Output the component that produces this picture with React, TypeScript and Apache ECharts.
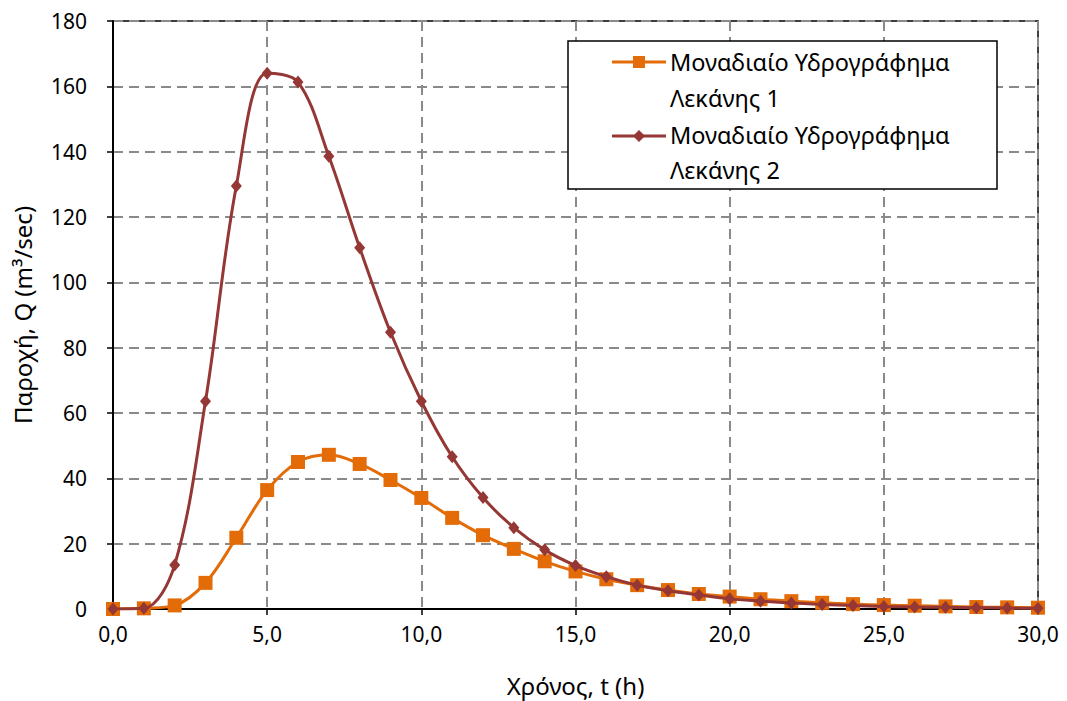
import React, { useEffect, useRef } from "react";
import * as echarts from "echarts";

const times: number[] = [0, 1, 2, 3, 4, 5, 6, 7, 8, 9, 10, 11, 12, 13, 14, 15, 16, 17, 18, 19, 20, 21, 22, 23, 24, 25, 26, 27, 28, 29, 30];
const basin1: number[] = [0, 0.2, 1.1, 8, 21.8, 36.4, 45, 47.2, 44.4, 39.5, 34, 27.9, 22.6, 18.4, 14.6, 11.5, 9.1, 7.3, 5.8, 4.6, 3.8, 3.0, 2.4, 1.9, 1.5, 1.2, 1.0, 0.8, 0.6, 0.5, 0.4];
const basin2: number[] = [0, 0.2, 13.5, 63.6, 129.5, 164, 161.3, 138.6, 110.6, 84.7, 63.6, 46.6, 34.1, 24.9, 18.1, 13.3, 9.9, 7.3, 5.6, 4.3, 3.1, 2.4, 1.8, 1.4, 1.1, 0.8, 0.6, 0.5, 0.4, 0.3, 0.2];
const seriesNames: string[] = ["Μοναδιαίο Υδρογράφημα Λεκάνης 1", "Μοναδιαίο Υδρογράφημα Λεκάνης 2"];
const legendLine1 = "Μοναδιαίο Υδρογράφημα";
const legendLine2: string[] = ["Λεκάνης 1", "Λεκάνης 2"];
const xTitle = "Χρόνος, t (h)";
const yTitle = "Παροχή, Q (m³/sec)";

const ORANGE = "#E36C09";
const DARKRED = "#953735";
const FONT = "Noto Sans";

export default function App() {
  const ref = useRef<HTMLDivElement>(null);
  useEffect(() => {
    document.body.style.margin = "0";
    if (!ref.current) return;
    const chart = echarts.init(ref.current, null, { renderer: "svg" });
    const gridLine = { show: true, lineStyle: { color: "#8a8a8a", type: [10, 6], width: 2 } };
    const lx = 568, ly = 41;
    const LF = 23.5;
    chart.setOption({
      animation: false,
      backgroundColor: "#ffffff",
      textStyle: { fontFamily: FONT },
      grid: { left: 113, right: 29, top: 21, bottom: 92, show: true, borderColor: "#000", borderWidth: 1.5, backgroundColor: "transparent", containLabel: false, outerBoundsMode: "none" },
      xAxis: {
        type: "value", min: 0, max: 30, interval: 5,
        name: xTitle, nameLocation: "middle", nameGap: 64,
        nameTextStyle: { fontSize: 24, color: "#000", fontFamily: FONT },
        axisLine: { show: true, lineStyle: { color: "#000", width: 2 } },
        axisTick: { show: true, inside: false, length: 6, lineStyle: { color: "#000", width: 1.5 } },
        axisLabel: { fontSize: 21, color: "#000", margin: 14, fontFamily: FONT, formatter: (v: number) => v.toFixed(1).replace(".", ",") },
        splitLine: gridLine,
      },
      yAxis: {
        type: "value", min: 0, max: 180, interval: 20,
        name: yTitle, nameLocation: "middle", nameGap: 79, nameRotate: 90,
        nameTextStyle: { fontSize: 24, color: "#000", fontFamily: FONT },
        axisLine: { show: true, lineStyle: { color: "#000", width: 2 } },
        axisTick: { show: true, inside: false, length: 6, lineStyle: { color: "#000", width: 1.5 } },
        axisLabel: { fontSize: 21, color: "#000", margin: 26, fontFamily: FONT },
        splitLine: gridLine,
      },
      series: [
        {
          name: seriesNames[0], type: "line", smooth: 0.35,
          data: times.map((t, i) => [t, basin1[i]]),
          symbol: "rect", symbolSize: 14,
          lineStyle: { color: ORANGE, width: 3 },
          itemStyle: { color: ORANGE },
          z: 2,
        },
        {
          name: seriesNames[1], type: "line", smooth: 0.35,
          data: times.map((t, i) => [t, basin2[i]]),
          symbol: "diamond", symbolSize: [11, 13],
          lineStyle: { color: DARKRED, width: 3 },
          itemStyle: { color: DARKRED },
          z: 3,
        },
      ],
      graphic: [
        { type: "rect", shape: { x: lx, y: ly, width: 429, height: 148 }, style: { fill: "#fff", stroke: "#000", lineWidth: 1.5 }, z: 10 },
        { type: "line", shape: { x1: 612, y1: 62, x2: 666, y2: 62 }, style: { stroke: ORANGE, lineWidth: 3 }, z: 11 },
        { type: "rect", shape: { x: 633, y: 56, width: 12, height: 12 }, style: { fill: ORANGE }, z: 12 },
        { type: "text", x: 670, y: 62, style: { text: legendLine1, fontSize: LF, fontFamily: FONT, fill: "#000", verticalAlign: "middle" }, z: 12 },
        { type: "text", x: 670, y: 98, style: { text: legendLine2[0], fontSize: LF, fontFamily: FONT, fill: "#000", verticalAlign: "middle" }, z: 12 },
        { type: "line", shape: { x1: 612, y1: 136, x2: 666, y2: 136 }, style: { stroke: DARKRED, lineWidth: 3 }, z: 11 },
        { type: "polygon", shape: { points: [[639, 130], [645, 136], [639, 142], [633, 136]] }, style: { fill: DARKRED }, z: 12 },
        { type: "text", x: 670, y: 135, style: { text: legendLine1, fontSize: LF, fontFamily: FONT, fill: "#000", verticalAlign: "middle" }, z: 12 },
        { type: "text", x: 670, y: 170, style: { text: legendLine2[1], fontSize: LF, fontFamily: FONT, fill: "#000", verticalAlign: "middle" }, z: 12 },
      ],
    });
    return () => chart.dispose();
  }, []);
  return <div ref={ref} style={{ width: 1067, height: 701 }} />;
}
